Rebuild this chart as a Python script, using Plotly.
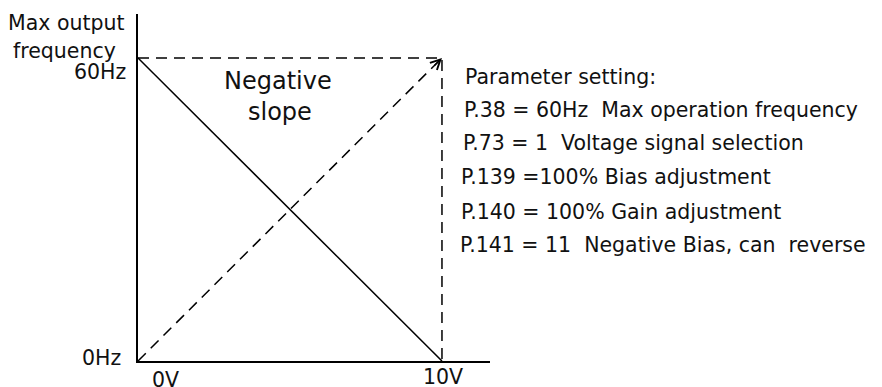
import plotly.graph_objects as go

# ---- data ----
voltage = [0, 10]                 # V
freq_negative = [60, 0]           # Hz, negative slope (solid)
freq_positive = [0, 60]           # Hz, positive slope (dashed)
frame_x = [0, 10, 10]
frame_y = [60, 60, 0]
x_tick_vals = [0, 10]
x_tick_text = ["0V", "10V"]
y_tick_vals = [0, 60]
y_tick_text = ["0Hz", "60Hz"]
y_title = ["Max output", "frequency"]
slope_label = ["Negative", "slope"]
param_title = "Parameter setting:"
param_lines = [
    "P.38 = 60Hz\u00a0 Max operation frequency",
    "P.73 = 1\u00a0 Voltage signal selection",
    "P.139 =100% Bias adjustment",
    "P.140 = 100% Gain adjustment",
    "P.141 = 11\u00a0 Negative Bias, can\u00a0 reverse",
]

W, H = 882, 387
FONT = "DejaVu Sans"
TXT = "#111111"


def px(x):
    return x / W


def py(y):
    return 1 - y / H


fig = go.Figure()

fig.add_trace(go.Scatter(x=frame_x, y=frame_y, mode="lines",
                         line=dict(color="black", width=1.5, dash="11px,7px"),
                         hoverinfo="skip"))
fig.add_trace(go.Scatter(x=voltage, y=freq_positive, mode="lines",
                         line=dict(color="black", width=1.5, dash="11px,7px"),
                         hoverinfo="skip"))
fig.add_trace(go.Scatter(x=voltage, y=freq_negative, mode="lines",
                         line=dict(color="black", width=1.5),
                         hoverinfo="skip"))

ann = []
# arrowhead at end of dashed diagonal
ann.append(dict(x=voltage[1], y=freq_positive[1], xref="x", yref="y",
                ax=-9, ay=9, showarrow=True, arrowhead=5, arrowsize=1.3,
                arrowwidth=1.5, arrowcolor="black", text=""))

# y-axis title
ann.append(dict(x=px(127), y=py(23), xref="paper", yref="paper", text=y_title[0],
                xanchor="right", yanchor="middle", showarrow=False,
                font=dict(family=FONT, size=20.5, color=TXT)))
ann.append(dict(x=px(118), y=py(51), xref="paper", yref="paper", text=y_title[1],
                xanchor="right", yanchor="middle", showarrow=False,
                font=dict(family=FONT, size=20.5, color=TXT)))

# y tick labels
y_shift = {0: 3, 60: -14}
y_right = {0: -15, 60: -10}
for v, t in zip(y_tick_vals, y_tick_text):
    ann.append(dict(x=0, y=v, xref="x", yref="y", text=t, xanchor="right",
                    yanchor="middle", xshift=y_right[v], yshift=y_shift[v],
                    showarrow=False, font=dict(family=FONT, size=20.5, color=TXT)))

# x tick labels
x_shift = {0: 27, 10: 1}
x_yshift = {0: -19, 10: -16}
for v, t in zip(x_tick_vals, x_tick_text):
    ann.append(dict(x=v, y=0, xref="x", yref="y", text=t, xanchor="center",
                    yanchor="middle", xshift=x_shift[v], yshift=x_yshift[v],
                    showarrow=False, font=dict(family=FONT, size=20.5, color=TXT)))

# slope label
ann.append(dict(x=px(278), y=py(81), xref="paper", yref="paper", text=slope_label[0],
                xanchor="center", yanchor="middle", showarrow=False,
                font=dict(family=FONT, size=24, color=TXT)))
ann.append(dict(x=px(280), y=py(112), xref="paper", yref="paper", text=slope_label[1],
                xanchor="center", yanchor="middle", showarrow=False,
                font=dict(family=FONT, size=24, color=TXT)))

# parameter text
ann.append(dict(x=px(463), y=py(77), xref="paper", yref="paper", text=param_title,
                xanchor="left", yanchor="middle", showarrow=False,
                font=dict(family=FONT, size=20.5, color=TXT)))
lefts = [462, 461, 459, 459, 458]
centers = [110, 143, 177, 212, 245]
for t, lx, cy in zip(param_lines, lefts, centers):
    ann.append(dict(x=px(lx), y=py(cy), xref="paper", yref="paper", text=t,
                    xanchor="left", yanchor="middle", showarrow=False,
                    font=dict(family=FONT, size=20.5, color=TXT)))

fig.update_layout(
    width=W, height=H,
    margin=dict(l=0, r=0, t=0, b=0),
    paper_bgcolor="white", plot_bgcolor="white",
    showlegend=False,
    annotations=ann,
    xaxis=dict(domain=[138 / W, 490 / W], range=[0, 11.58], showline=True,
               linecolor="black", linewidth=2, showgrid=False, zeroline=False,
               showticklabels=False, ticks=""),
    yaxis=dict(domain=[26 / H, 373 / H], range=[0, 68.7], showline=True,
               linecolor="black", linewidth=2, showgrid=False, zeroline=False,
               showticklabels=False, ticks=""),
)

fig.write_html(
    "out.html",
    config={"displayModeBar": False},
    post_script="document.body.style.margin='0px';document.body.style.overflow='hidden';",
)
